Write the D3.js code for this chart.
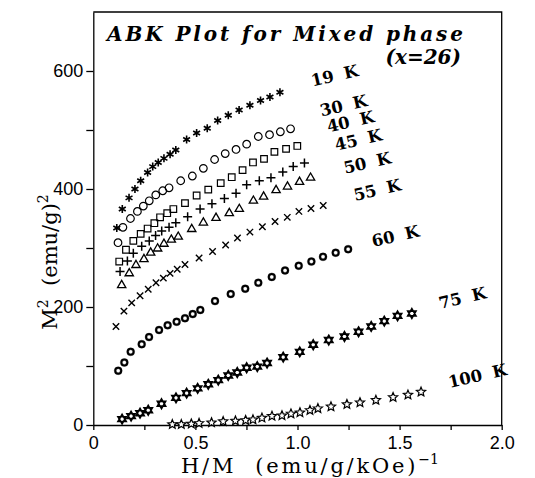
<!DOCTYPE html>
<html>
<head>
<meta charset="utf-8">
<script src="https://cdn.jsdelivr.net/npm/d3@7"></script>
<style>
  body { margin: 0; background: #fff; }
  text { fill: #000; }
</style>
</head>
<body>
<svg id="chart"></svg>
<script>
// ABK plot values: [H/M, M^2]
var t19 = [[0.115,334],[0.142,366],[0.175,385],[0.204,400],[0.232,414],[0.266,428],[0.291,438],[0.318,445],[0.346,452],[0.376,459],[0.404,466],[0.457,484],[0.506,495],[0.558,503],[0.609,516],[0.661,525],[0.714,534],[0.767,542],[0.819,550],[0.865,556],[0.914,564]];
var t30 = [[0.121,309],[0.145,335],[0.182,350],[0.216,362],[0.245,371],[0.274,380],[0.306,390],[0.340,397],[0.371,402],[0.428,414],[0.485,422],[0.539,435],[0.594,450],[0.646,460],[0.699,467],[0.751,476],[0.808,489],[0.863,492],[0.916,497],[0.966,502]];
var t40 = [[0.127,277],[0.160,297],[0.196,312],[0.232,324],[0.266,333],[0.299,342],[0.327,352],[0.362,359],[0.392,366],[0.449,376],[0.506,389],[0.563,399],[0.624,410],[0.678,420],[0.731,432],[0.782,445],[0.836,451],[0.887,463],[0.944,468],[0.999,473]];
var t45 = [[0.131,260],[0.167,278],[0.196,291],[0.237,303],[0.274,312],[0.305,321],[0.335,329],[0.371,335],[0.404,343],[0.462,353],[0.523,366],[0.581,375],[0.642,384],[0.699,393],[0.751,407],[0.813,414],[0.870,419],[0.928,429],[0.979,438],[1.034,444]];
var t50 = [[0.139,237],[0.176,257],[0.209,271],[0.248,281],[0.281,292],[0.315,299],[0.346,307],[0.382,314],[0.416,319],[0.482,332],[0.539,343],[0.601,351],[0.666,359],[0.715,366],[0.784,380],[0.834,387],[0.895,398],[0.951,404],[1.010,412],[1.064,419]];
var t55 = [[0.111,167],[0.150,193],[0.188,207],[0.229,219],[0.269,230],[0.307,241],[0.343,249],[0.376,257],[0.411,264],[0.449,272],[0.518,283],[0.584,294],[0.648,305],[0.706,317],[0.767,327],[0.828,336],[0.890,345],[0.950,352],[1.007,362],[1.066,367],[1.126,372]];
var t60 = [[0.122,92],[0.152,106],[0.183,124],[0.237,137],[0.273,149],[0.322,161],[0.364,169],[0.408,175],[0.449,181],[0.487,188],[0.524,195],[0.596,210],[0.673,222],[0.744,231],[0.808,241],[0.874,251],[0.939,262],[1.006,270],[1.068,277],[1.125,285],[1.187,292],[1.248,298]];
var t75 = [[0.141,10],[0.185,15],[0.229,20],[0.269,25],[0.334,36],[0.405,46],[0.457,54],[0.511,62],[0.563,69],[0.612,76],[0.661,84],[0.705,89],[0.751,97],[0.803,99],[0.851,105],[0.930,115],[1.011,124],[1.077,136],[1.153,144],[1.230,150],[1.299,158],[1.361,167],[1.425,176],[1.490,185],[1.560,189]];
var t100 = [[0.387,1],[0.431,1],[0.480,2],[0.518,3],[0.579,4],[0.636,6],[0.696,7],[0.746,8],[0.782,9],[0.826,12],[0.875,15],[0.924,16],[0.968,19],[1.012,21],[1.061,25],[1.100,28],[1.164,31],[1.242,35],[1.306,38],[1.384,42],[1.468,47],[1.541,51],[1.605,56]];

var series = [t19, t30, t40, t45, t50, t55, t60, t75, t100];
var seriesNames = ["19 K", "30 K", "40 K", "45 K", "50 K", "55 K", "60 K", "75 K", "100 K"];
// where each temperature label sits, in data units
var labelAt = [[1.182,592],[1.226,541],[1.260,514],[1.298,483],[1.342,444],[1.391,398],[1.480,320],[1.808,215],[1.881,83]];

var xTicks = [0, 0.25, 0.5, 0.75, 1.0, 1.25, 1.5, 1.75, 2.0];
var xTickLabels = ["0", "", "0.5", "", "1.0", "", "1.5", "", "2.0"];
var yTicks = [0, 100, 200, 300, 400, 500, 600];
var yTickLabels = ["0", "", "200", "", "400", "", "600"];

var width = 535, height = 478;
var margin = {top: 12, right: 33.3, bottom: 53, left: 93.3};

var x = d3.scaleLinear().domain([0, 2]).range([margin.left, width - margin.right]);
var y = d3.scaleLinear().domain([0, 700]).range([height - margin.bottom, margin.top]);

var svg = d3.select("#chart")
  .attr("width", width)
  .attr("height", height);

/* marker shapes, size = half-width in px */
var asterisk = {draw: function (c, r) {
  for (var k = 0; k < 3; k++) {
    var a = Math.PI / 2 + k * Math.PI / 3;
    c.moveTo(r * Math.cos(a), r * Math.sin(a));
    c.lineTo(-r * Math.cos(a), -r * Math.sin(a));
  }
}};
var ring = {draw: function (c, r) { c.moveTo(r, 0); c.arc(0, 0, r, 0, 2 * Math.PI); }};
var square = {draw: function (c, r) { c.rect(-r, -r, 2 * r, 2 * r); }};
var plus = {draw: function (c, r) { c.moveTo(-r, 0); c.lineTo(r, 0); c.moveTo(0, -r); c.lineTo(0, r); }};
var triangle = {draw: function (c, r) {
  c.moveTo(0, -r); c.lineTo(r * 0.866, r * 0.5); c.lineTo(-r * 0.866, r * 0.5); c.closePath();
}};
var cross = {draw: function (c, r) { c.moveTo(-r, -r); c.lineTo(r, r); c.moveTo(-r, r); c.lineTo(r, -r); }};
var donut = {draw: function (c, r) {
  c.moveTo(r, 0); c.arc(0, 0, r, 0, 2 * Math.PI);
  c.moveTo(r * 0.5, 0); c.arc(0, 0, r * 0.5, 0, 2 * Math.PI);
}};
var hexagram = {draw: function (c, r) {
  for (var t = 0; t < 2; t++) {
    for (var k = 0; k < 3; k++) {
      var a = -Math.PI / 2 + t * Math.PI + k * 2 * Math.PI / 3;
      if (k === 0) c.moveTo(r * Math.cos(a), r * Math.sin(a));
      else c.lineTo(r * Math.cos(a), r * Math.sin(a));
    }
    c.closePath();
  }
}};
var star = {draw: function (c, r) {
  for (var k = 0; k < 10; k++) {
    var rr = k % 2 ? r * 0.45 : r;
    var a = -Math.PI / 2 + k * Math.PI / 5;
    if (k === 0) c.moveTo(rr * Math.cos(a), rr * Math.sin(a));
    else c.lineTo(rr * Math.cos(a), rr * Math.sin(a));
  }
  c.closePath();
}};

var markers = [
  {type: asterisk, r: 4, sw: 1.6, fill: "none"},
  {type: ring, r: 3.8, sw: 1.2, fill: "none"},
  {type: square, r: 3.3, sw: 1.2, fill: "none"},
  {type: plus, r: 4.5, sw: 1.5, fill: "none"},
  {type: triangle, r: 4.8, sw: 1.3, fill: "none"},
  {type: cross, r: 3.2, sw: 1.4, fill: "none"},
  {type: donut, r: 4, sw: 0.3, fill: "#000"},
  {type: hexagram, r: 4.8, sw: 1.6, fill: "#fff"},
  {type: star, r: 4.8, sw: 1.2, fill: "#fff"}
];

/* frame: top and right edges */
svg.append("path")
  .attr("d", "M" + x(0) + "," + y(700) + "H" + x(2) + "V" + y(0))
  .attr("fill", "none")
  .attr("stroke", "#000")
  .attr("stroke-width", 1.3);

/* axes */
var gx = svg.append("g")
  .attr("transform", "translate(0," + y(0) + ")")
  .call(d3.axisBottom(x).tickValues(xTicks).tickSize(5).tickSizeOuter(0).tickPadding(6.5)
    .tickFormat(function (d, i) { return xTickLabels[i]; }));

var gy = svg.append("g")
  .attr("transform", "translate(" + x(0) + ",0)")
  .call(d3.axisLeft(y).tickValues(yTicks).tickSize(7).tickSizeOuter(0).tickPadding(3)
    .tickFormat(function (d, i) { return yTickLabels[i]; }));

[gx, gy].forEach(function (g) {
  g.selectAll("path, line").attr("stroke", "#000").attr("stroke-width", 1.3);
  g.selectAll("text")
    .attr("fill", "#000")
    .style("font-family", "'Liberation Sans', Arial, sans-serif")
    .style("font-size", "18px");
});

/* points */
series.forEach(function (s, i) {
  var m = markers[i];
  svg.append("g")
    .attr("class", "series")
    .selectAll("path")
    .data(s).enter()
    .append("path")
    .attr("transform", function (d) { return "translate(" + x(d[0]) + "," + y(d[1]) + ")"; })
    .attr("d", d3.symbol().type(m.type).size(m.r))
    .attr("fill", m.fill)
    .attr("fill-rule", "evenodd")
    .attr("stroke", "#000")
    .attr("stroke-width", m.sw);
});

/* temperature labels */
svg.append("g")
  .selectAll("text")
  .data(seriesNames).enter()
  .append("text")
  .attr("transform", function (d, i) {
    return "translate(" + x(labelAt[i][0]) + "," + y(labelAt[i][1]) + ") rotate(-13)";
  })
  .attr("text-anchor", "middle")
  .attr("dominant-baseline", "central")
  .style("font-family", "'DejaVu Serif', serif")
  .style("font-weight", "bold")
  .style("font-size", "16.5px")
  .style("word-spacing", "5px")
  .text(function (d) { return d; });

/* title */
svg.append("text")
  .attr("x", 107).attr("y", 41)
  .attr("textLength", 356)
  .attr("lengthAdjust", "spacing")
  .style("font-family", "'DejaVu Serif', serif")
  .style("font-style", "italic")
  .style("font-weight", "bold")
  .style("font-size", "20px")
  .text("ABK Plot for Mixed phase");

svg.append("text")
  .attr("x", 461).attr("y", 64)
  .attr("text-anchor", "end")
  .style("font-family", "'DejaVu Serif', serif")
  .style("font-style", "italic")
  .style("font-weight", "bold")
  .style("font-size", "20px")
  .text("(x=26)");

/* axis titles */
var xt = svg.append("text")
  .attr("x", 181).attr("y", 473)
  .style("font-family", "'DejaVu Serif', serif")
  .style("font-size", "21px")
  .style("letter-spacing", "2.8px")
  .style("white-space", "pre");
xt.append("tspan").text("H/M  (emu/g/kOe)");
xt.append("tspan").attr("dx", 0).attr("dy", -9)
  .style("font-size", "14px").style("letter-spacing", "0px")
  .text("\u22121");

var yt = svg.append("text")
  .attr("transform", "translate(57,262) rotate(-90)")
  .attr("text-anchor", "middle")
  .style("font-family", "'DejaVu Serif', serif")
  .style("font-size", "21px")
  .style("white-space", "pre");
yt.append("tspan").text("M");
yt.append("tspan").attr("dy", -9).style("font-size", "14px").text("2");
yt.append("tspan").attr("dy", 9).text("  (emu/g)");
yt.append("tspan").attr("dy", -9).style("font-size", "14px").text("2");
</script>
</body>
</html>
